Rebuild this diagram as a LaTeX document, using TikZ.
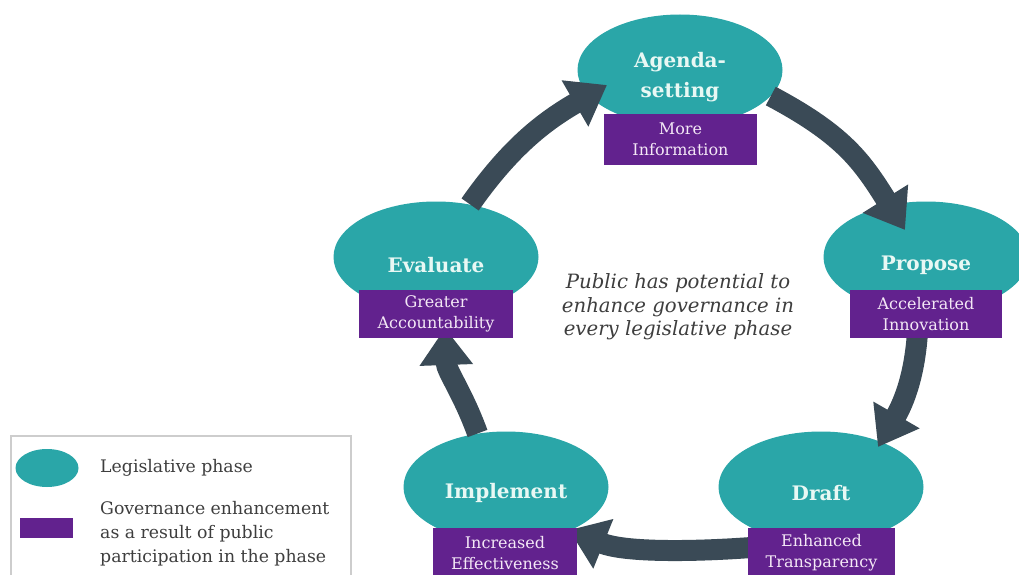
\documentclass[tikz,border=0pt]{standalone}
\usepackage{fontspec}
\setmainfont{DejaVu Serif}
\usetikzlibrary{arrows.meta,shapes.geometric}
\definecolor{phaseteal}{RGB}{42,166,168}
\definecolor{enhpurple}{RGB}{98,34,142}
\definecolor{arrowslate}{RGB}{58,74,86}
\definecolor{phasetxtc}{RGB}{232,248,244}
\definecolor{enhtxt}{RGB}{244,232,246}
\definecolor{bodygrey}{RGB}{62,62,62}
\definecolor{legendgrey}{RGB}{205,205,205}
\begin{document}
\begin{tikzpicture}[x=1pt,y=1pt,
  phase/.style={ellipse, fill=phaseteal, minimum width=205pt, minimum height=111pt, inner sep=0pt},
  phasetxt/.style={text=phasetxtc, font=\bfseries\fontsize{20}{30}\selectfont, align=center, inner sep=0pt},
  enh/.style={fill=enhpurple, inner sep=0pt, text=enhtxt, font=\fontsize{16}{21}\selectfont, align=center},
  flow/.style={draw=arrowslate, line width=21pt, -{Triangle[width=51pt,length=37pt]}},
  legtxt/.style={text=bodygrey, font=\fontsize{17.3}{24}\selectfont, inner sep=0pt}
]
\useasboundingbox (0,0) rectangle (1019,-575);
\fill[white] (0,0) rectangle (1019,-575);

% phases
\node[phase] (ag) at (680,-70) {};
\node[phase] (ev) at (436,-257) {};
\node[phase] (pr) at (926,-257) {};
\node[phase] (im) at (506,-487) {};
\node[phase] (dr) at (821,-487) {};

% connectors
\coordinate (t1) at (607,-85);
\coordinate (t2) at (905,-230);
\coordinate (s3) at (918,-322);
\coordinate (t3) at (878,-447);
\coordinate (s4) at (770,-546);
\coordinate (t4) at (569,-530);
\coordinate (t5) at (445,-328);
\draw[flow] (ev.57) to[out=55,in=210] (t1);
\draw[flow] (ag.-16) to[out=-28,in=122,looseness=1.1] (t2);
\draw[flow] (s3) to[out=-92,in=60] (t3);
\draw[flow] (s4) to[out=185,in=-22,looseness=0.8] (t4);
\draw[flow] (im.118) to[out=110,in=-88] (t5);

% enhancement boxes
\node[enh, minimum width=153pt, minimum height=51pt] (agb) at (680.5,-139.5) {More\\Information};
\node[enh, minimum width=154pt, minimum height=48pt] (evb) at (436,-314) {Greater\\Accountability};
\node[enh, minimum width=152pt, minimum height=48pt] (prb) at (926,-314) {Accelerated\\Innovation};
\node[enh, minimum width=144pt, minimum height=50pt] (imb) at (505,-553) {Increased\\Effectiveness};
\node[enh, minimum width=147pt, minimum height=50pt] (drb) at (821.5,-553) {Enhanced\\Transparency};

% phase titles
\node[phasetxt] (agt) at (680,-77) {Agenda-\\setting};
\node[phasetxt] (evt) at (436,-265) {Evaluate};
\node[phasetxt] (prt) at (926,-265) {Propose};
\node[phasetxt] (imt) at (506,-493) {Implement};
\node[phasetxt] (drt) at (821,-493) {Draft};

% centre text
\node[text=bodygrey, font=\itshape\fontsize{19.7}{23.5}\selectfont, align=center] (ctr) at (678,-307)
  {Public has potential to\\enhance governance in\\every legislative phase};

% legend
\node[draw=legendgrey, line width=1.5pt, fill=white, anchor=north west, minimum width=340pt, minimum height=170pt, inner sep=0pt] (leg) at (10,-435) {};
\node[ellipse, fill=phaseteal, minimum width=63pt, minimum height=38pt, inner sep=0pt] (legph) at (47,-468) {};
\node[fill=enhpurple, minimum width=53pt, minimum height=20pt, inner sep=0pt] (legen) at (46.5,-528) {};
\node[legtxt, anchor=west] (legpht) at (100,-468) {Legislative phase};
\node[legtxt, anchor=west, align=left] (legent) at (100,-534) {Governance enhancement\\as a result of public\\participation in the phase};
\end{tikzpicture}
\end{document}
